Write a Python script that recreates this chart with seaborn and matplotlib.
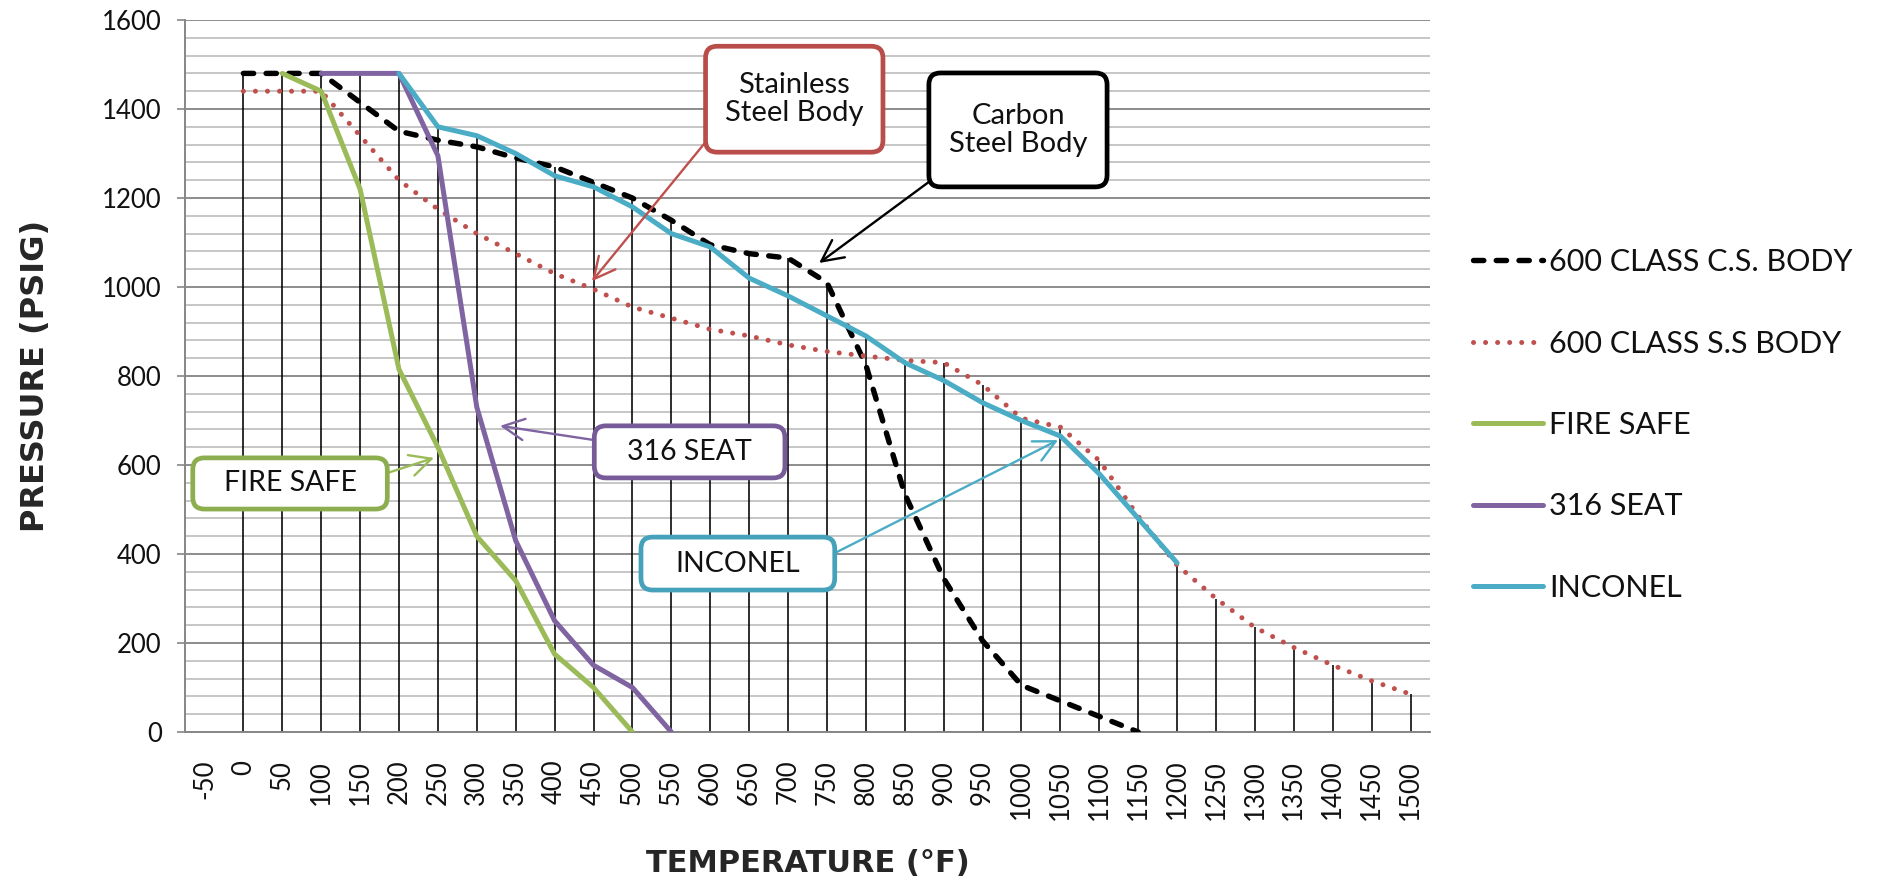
import numpy as np
import pandas as pd
import matplotlib.pyplot as plt
import seaborn as sns
from matplotlib.patches import FancyBboxPatch
from matplotlib.ticker import MultipleLocator

# temperature categories (deg F) and pressure ratings (psig)
temps = [-50, 0, 50, 100, 150, 200, 250, 300, 350, 400, 450, 500, 550, 600, 650,
         700, 750, 800, 850, 900, 950, 1000, 1050, 1100, 1150, 1200, 1250, 1300,
         1350, 1400, 1450, 1500]
N = None
cs_body = [N, 1480, 1480, 1480, 1415, 1350, 1330, 1315, 1290, 1270, 1235, 1200, 1150,
           1095, 1075, 1065, 1010, 825, 535, 345, 205, 105, 70, 35, 0, N, N, N, N, N, N, N]
ss_body = [N, 1440, 1440, 1440, 1340, 1240, 1175, 1120, 1075, 1030, 995, 955, 930,
           905, 890, 870, 855, 845, 835, 830, 780, 705, 685, 610, 485, 375, 300, 235,
           190, 150, 115, 85]
fire_safe = [N, N, 1480, 1440, 1220, 815, 640, 440, 340, 175, 100, 0,
             N, N, N, N, N, N, N, N, N, N, N, N, N, N, N, N, N, N, N, N]
seat_316 = [N, N, N, 1480, 1480, 1480, 1295, 730, 430, 250, 150, 100, 0,
            N, N, N, N, N, N, N, N, N, N, N, N, N, N, N, N, N, N, N]
inconel = [N, N, N, N, N, 1480, 1360, 1340, 1300, 1250, 1225, 1180, 1120, 1090, 1020,
           980, 935, 890, 830, 790, 740, 700, 665, 580, 480, 380, N, N, N, N, N, N]

series_names = ["600 CLASS C.S. BODY", "600 CLASS S.S BODY", "FIRE SAFE", "316 SEAT", "INCONEL"]

df = pd.DataFrame({"temp": temps,
                   series_names[0]: cs_body,
                   series_names[1]: ss_body,
                   series_names[2]: fire_safe,
                   series_names[3]: seat_316,
                   series_names[4]: inconel}).astype(float)
long = df.melt(id_vars="temp", var_name="series", value_name="psig").dropna()

styles = {
    "600 CLASS C.S. BODY": dict(color="black", lw=3.9, linestyle=(0, (1.9, 2.3)), dash_capstyle="round"),
    "600 CLASS S.S BODY": dict(color="#C0504D", lw=3.6, linestyle=(0, (0.01, 2.4)), dash_capstyle="round"),
    "FIRE SAFE": dict(color="#9BBB59", lw=3.6, solid_capstyle="round"),
    "316 SEAT": dict(color="#8064A2", lw=3.6, solid_capstyle="round"),
    "INCONEL": dict(color="#4BACC6", lw=3.6, solid_capstyle="round"),
}

sns.set_style("white")
plt.rcParams["font.family"] = ["Lato", "DejaVu Sans"]

fig = plt.figure(figsize=(18.81, 8.91), dpi=100)
ax = fig.add_axes([0.09835, 0.17845, 0.66188, 0.79910])

# drop lines from the highest rating in each category
tops = long.groupby("temp")["psig"].max()
ax.vlines(tops.index, 0, tops.values, color="black", lw=1.15, zorder=2)

for name in series_names:
    sub = long[long["series"] == name]
    sns.lineplot(data=sub, x="temp", y="psig", ax=ax, label=name, zorder=3, **styles[name])

handles, labels = ax.get_legend_handles_labels()
if ax.get_legend() is not None:
    ax.get_legend().remove()

ax.set_xlim(-75, 1525)
ax.set_ylim(0, 1600)
ax.set_xticks(temps)
ax.set_xticklabels([str(t) for t in temps], rotation=90, fontsize=18.5, color="#111111")
ax.yaxis.set_major_locator(MultipleLocator(200))
ax.yaxis.set_minor_locator(MultipleLocator(40))
ax.tick_params(axis="y", which="major", labelsize=18.5, labelcolor="#111111", length=5.8,
               width=1.2, color="#868686", pad=11, left=True)
ax.tick_params(axis="y", which="minor", length=0)
ax.tick_params(axis="x", length=0, pad=20)
ax.grid(axis="y", which="major", color="#8C8C8C", lw=1.4)
ax.grid(axis="y", which="minor", color="#C6C6C6", lw=1.4)
ax.set_axisbelow(True)
for side in ["top", "right"]:
    ax.spines[side].set_visible(False)
for side in ["left", "bottom"]:
    ax.spines[side].set_color("#868686")
    ax.spines[side].set_linewidth(1.4)

ax.set_xlabel("TEMPERATURE (°F)", fontsize=22, fontweight="bold", family="DejaVu Sans", va="center")
ax.xaxis.set_label_coords(0.5, -0.185)
ax.set_ylabel("PRESSURE (PSIG)", fontsize=23, fontweight="bold", family="DejaVu Sans", va="center")
ax.yaxis.set_label_coords(-0.12, 0.5)

# callout boxes: text, box (x0, y0, x1, y1), arrow start, arrow tip, border colour, arrow colour, size
callouts = [
    ("Stainless\nSteel Body", (594, 1303, 822, 1541), (596, 1330), (448, 1013), "#B94D4A", "#C0504D", 21),
    ("Carbon\nSteel Body", (881, 1225, 1110, 1481), (884, 1240), (740, 1054), "black", "black", 21),
    ("316 SEAT", (451, 571, 696, 688), (451, 656), (330, 688), "#765B98", "#8064A2", 20.5),
    ("FIRE SAFE", (-65, 501, 185, 616), (185, 582), (245, 616), "#8DAE4E", "#9BBB59", 20.5),
    ("INCONEL", (511, 319, 760, 438), (760, 402), (1047, 656), "#46A2BB", "#4BACC6", 20.5),
]
aspect = 2.247 / 1.285
for text, (x0, y0, x1, y1), start, tip, ec, ac, fs in callouts:
    ax.annotate("", xy=tip, xytext=start,
                arrowprops=dict(arrowstyle="->,head_length=0.7,head_width=0.35", color=ac,
                                lw=1.7, shrinkA=0, shrinkB=0, mutation_scale=22),
                zorder=4, annotation_clip=False)
    box = FancyBboxPatch((x0, y0), x1 - x0, y1 - y0,
                         boxstyle="round,pad=0,rounding_size=15", mutation_aspect=aspect,
                         fc="white", ec=ec, lw=3.4, zorder=5, clip_on=False)
    ax.add_patch(box)
    ax.text((x0 + x1) / 2, (y0 + y1) / 2, text, ha="center", va="center",
            fontsize=fs, color="#111111", zorder=6, linespacing=1.1)

fig.legend(handles, labels, loc="center left", bbox_to_anchor=(1473 / 1881, 0.523),
           frameon=False, fontsize=22, handlelength=2.3, handletextpad=0.18,
           labelspacing=1.75, borderpad=0, borderaxespad=0, labelcolor="#111111")

fig.savefig("out.png", dpi=100)
